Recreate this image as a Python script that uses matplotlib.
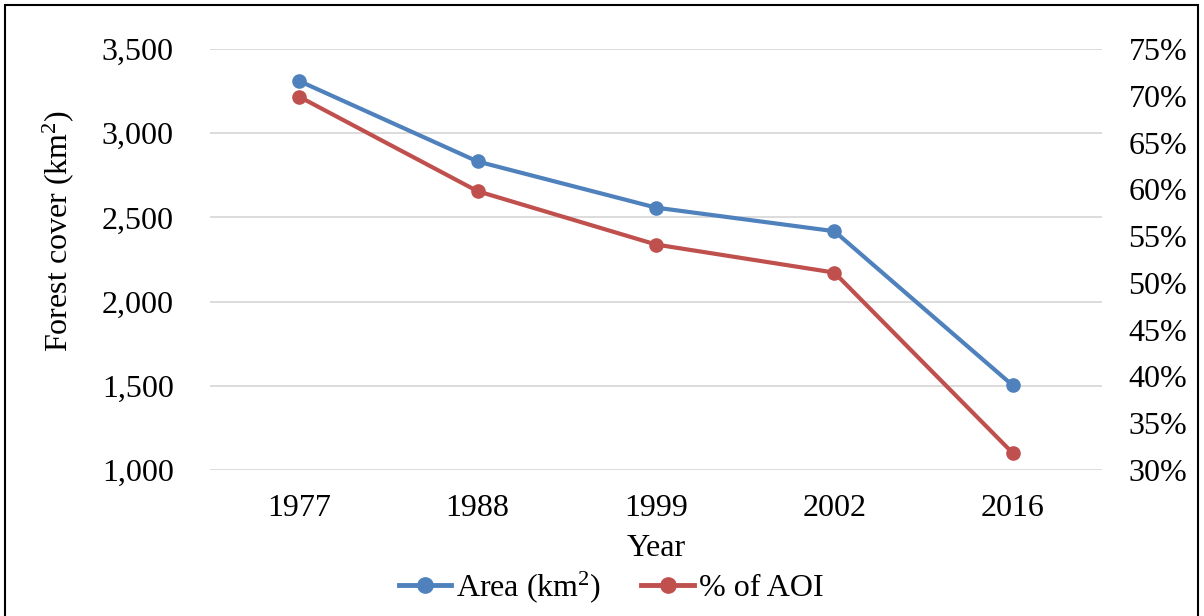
import matplotlib
matplotlib.use("Agg")
import matplotlib.pyplot as plt
from matplotlib.patches import Rectangle
from matplotlib.ticker import FuncFormatter, MultipleLocator
from matplotlib.lines import Line2D

years = ["1977", "1988", "1999", "2002", "2016"]
area_km2 = [3310, 2832, 2558, 2418, 1502]
pct_aoi = [69.9, 59.8, 54.1, 51.1, 31.8]

plt.rcParams['font.family'] = ['Liberation Serif', 'DejaVu Serif']
plt.rcParams['mathtext.fontset'] = 'custom'
plt.rcParams['mathtext.rm'] = 'Liberation Serif'
plt.rcParams['mathtext.it'] = 'Liberation Serif:italic'
plt.rcParams['mathtext.bf'] = 'Liberation Serif:bold'
blue = "#4F81BD"
red = "#C0504D"
fs = 23

fig = plt.figure(figsize=(12.04, 6.16), dpi=100)
ax = fig.add_axes([210/1204, 1-470/616, (1102-210)/1204, (470-49)/616])
ax2 = ax.twinx()

x = list(range(len(years)))
ax.plot(x, area_km2, color=blue, lw=3, marker='o', ms=9.5, zorder=3, solid_capstyle='round')
ax2.plot(x, pct_aoi, color=red, lw=3, marker='o', ms=9.5, zorder=3, solid_capstyle='round')

ax.set_xlim(-0.5, len(years)-0.5)
ax.set_ylim(1000, 3500)
ax2.set_ylim(30, 75)
ax.yaxis.set_major_locator(MultipleLocator(500))
ax2.yaxis.set_major_locator(MultipleLocator(5))
ax.yaxis.set_major_formatter(FuncFormatter(lambda v, p: f"{int(v):,}"))
ax2.yaxis.set_major_formatter(FuncFormatter(lambda v, p: f"{int(round(v))}%"))
ax.set_xticks(x)
ax.set_xticklabels(years)
ax.grid(axis='y', color='#D9D9D9', lw=1.3)
ax.set_axisbelow(True)
for a in (ax, ax2):
    for s in a.spines.values():
        s.set_visible(False)
    a.tick_params(length=0, labelsize=fs)
ax.tick_params(axis='y', pad=26)
ax.tick_params(axis='x', pad=17)
ax2.tick_params(axis='y', pad=19)
ax.set_ylabel("Forest cover (km$^2$)", fontsize=fs, labelpad=19)
ax.yaxis.set_label_coords(-0.150, 0.568)
ax.set_xlabel("Year", fontsize=fs, labelpad=8)

handles = [Line2D([0], [0], color=blue, lw=3.5, marker='o', ms=11),
           Line2D([0], [0], color=red, lw=3.5, marker='o', ms=11)]
fig.legend(handles, ["Area (km$^2$)", "% of AOI"], loc='center', bbox_to_anchor=(611/1204, 1-587/616),
           ncol=2, frameon=False, fontsize=fs, handlelength=1.65, handletextpad=0.15, columnspacing=1.25)

fig.add_artist(Rectangle((5/1204, -0.05), (1198-5)/1204, 1.05-5/616, transform=fig.transFigure,
                         fill=False, ec='black', lw=1.5))

fig.savefig("out.png", dpi=100)
